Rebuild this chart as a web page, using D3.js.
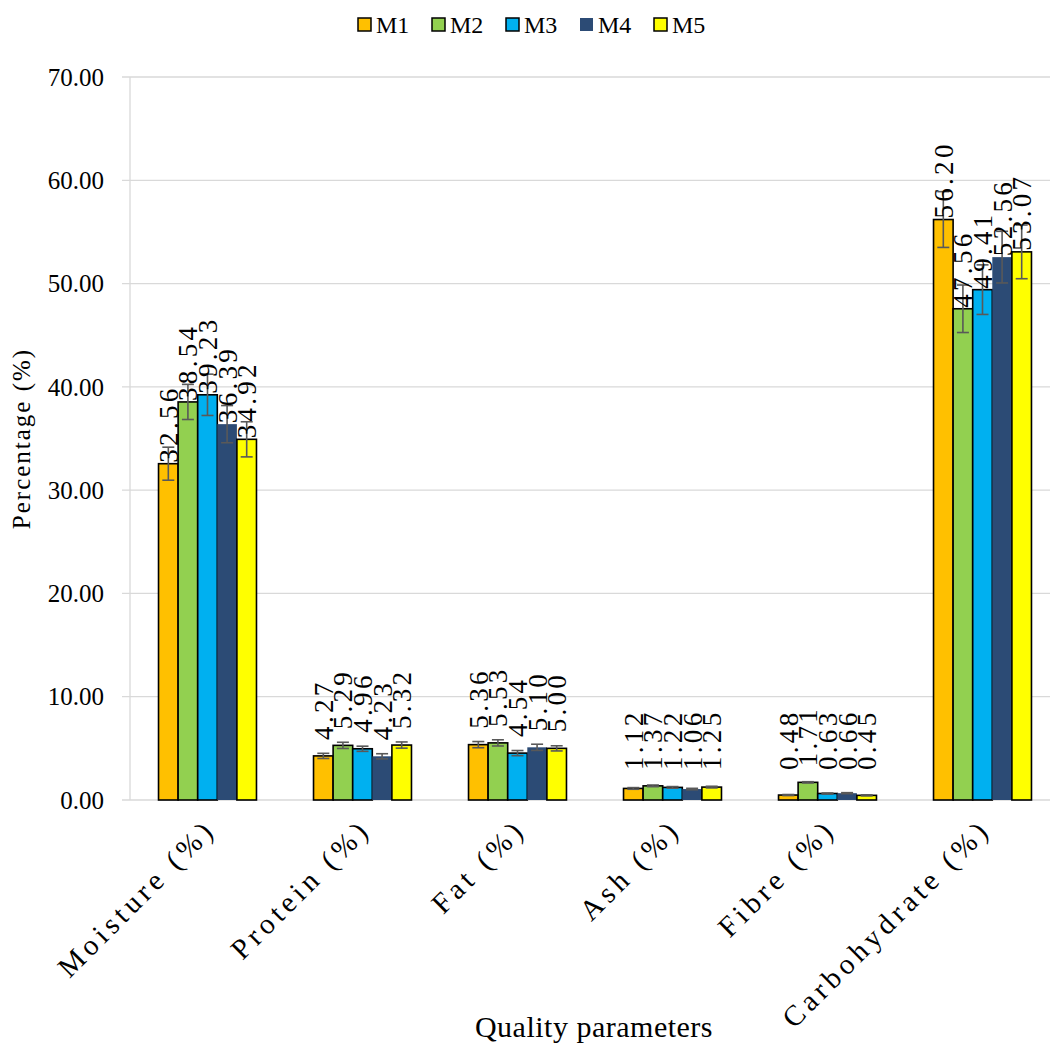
<!DOCTYPE html>
<html><head><meta charset="utf-8">
<script src="https://cdn.jsdelivr.net/npm/d3@7"></script>
<style>body{margin:0;background:#fff}svg{display:block}</style>
</head><body><div id="chart"></div>
<script>
const categories = ["Moisture (%)", "Protein (%)", "Fat (%)", "Ash (%)", "Fibre (%)", "Carbohydrate (%)"];
const seriesNames = ["M1", "M2", "M3", "M4", "M5"];
const M1 = [32.56, 4.27, 5.36, 1.12, 0.48, 56.20];
const M2 = [38.54, 5.29, 5.53, 1.37, 1.71, 47.56];
const M3 = [39.23, 4.96, 4.54, 1.22, 0.63, 49.41];
const M4 = [36.39, 4.23, 5.10, 1.06, 0.66, 52.56];
const M5 = [34.92, 5.32, 5.00, 1.25, 0.45, 53.07];
const E1 = [1.6, 0.25, 0.3, 0.08, 0.05, 2.7];
const E2 = [1.7, 0.3, 0.3, 0.08, 0.06, 2.3];
const E3 = [2.0, 0.25, 0.25, 0.08, 0.05, 2.4];
const E4 = [1.8, 0.25, 0.3, 0.07, 0.05, 2.5];
const E5 = [1.7, 0.3, 0.25, 0.08, 0.05, 2.6];
const yTicks = [0, 10, 20, 30, 40, 50, 60, 70];
const colors = ["#FFC000", "#92D050", "#00B0F0", "#2C4B75", "#FFFF00"];
const strokes = ["#000", "#000", "#000", "none", "#000"];

const values = [M1, M2, M3, M4, M5];
const errors = [E1, E2, E3, E4, E5];
const FONT = "'Liberation Serif', 'Times New Roman', Times, 'DejaVu Serif', serif";

const W = 1050, H = 1045;
const svg = d3.select("#chart").append("svg").attr("width", W).attr("height", H)
  .attr("font-family", FONT).style("font-family", FONT);

const x0 = d3.scaleBand().domain(categories).range([130, 1060]).paddingInner(0.368).paddingOuter(0.184);
const x1 = d3.scaleBand().domain(seriesNames).range([0, x0.bandwidth()]);
const y = d3.scaleLinear().domain([0, 70]).range([800, 77]);

// gridlines
svg.append("g").selectAll("line").data(yTicks).join("line")
  .attr("x1", 122).attr("x2", 1050)
  .attr("y1", d => y(d)).attr("y2", d => y(d))
  .attr("stroke", "#d9d9d9").attr("stroke-width", 1.3);
svg.append("line").attr("x1", 130).attr("x2", 130).attr("y1", y(70)).attr("y2", y(0))
  .attr("stroke", "#d9d9d9").attr("stroke-width", 1.3);

// y tick labels
svg.append("g").selectAll("text").data(yTicks).join("text")
  .attr("x", 104).attr("y", d => y(d)).attr("dy", "0.35em")
  .attr("text-anchor", "end").style("font-size", "25px").style("font-family", FONT)
  .text(d => d.toFixed(2));

// bars
const flat = [];
categories.forEach((c, i) => seriesNames.forEach((s, j) => flat.push({c, s, j, v: values[j][i], e: errors[j][i]})));

svg.append("g").selectAll("rect").data(flat).join("rect")
  .attr("x", d => x0(d.c) + x1(d.s)).attr("width", x1.bandwidth())
  .attr("y", d => y(d.v)).attr("height", d => y(0) - y(d.v))
  .attr("fill", d => colors[d.j]).attr("stroke", d => strokes[d.j]).attr("stroke-width", 1.6);

// error bars
const eg = svg.append("g").attr("stroke", "#595959").attr("stroke-width", 1.6);
flat.forEach(d => {
  const cx = x0(d.c) + x1(d.s) + x1.bandwidth() / 2;
  const yt = y(d.v + d.e), yb = y(d.v - d.e);
  eg.append("line").attr("x1", cx).attr("x2", cx).attr("y1", yt).attr("y2", yb);
  eg.append("line").attr("x1", cx - 6).attr("x2", cx + 6).attr("y1", yt).attr("y2", yt);
  eg.append("line").attr("x1", cx - 6).attr("x2", cx + 6).attr("y1", yb).attr("y2", yb);
});

// value labels
svg.append("g").selectAll("text").data(flat).join("text")
  .attr("transform", d => {
    const cx = x0(d.c) + x1(d.s) + x1.bandwidth() / 2;
    const ly = d.v < 10 ? Math.min(y(d.v) - 16, y(0) - 30) : y(d.v) - 1;
    return `translate(${cx},${ly}) rotate(-90)`;
  })
  .attr("dy", "0.35em").attr("text-anchor", "start").style("font-size", "27px")
  .style("letter-spacing", "3.3px").style("font-family", FONT)
  .text(d => d.v.toFixed(2));

// x category labels
svg.append("g").selectAll("text").data(categories).join("text")
  .attr("transform", c => `translate(${x0(c) + x0.bandwidth() / 2 + 10},${831}) rotate(-45)`)
  .attr("text-anchor", "end").style("font-size", "29px").style("letter-spacing", "4.5px").style("font-family", FONT)
  .text(c => c);

// axis titles
svg.append("text").attr("transform", `translate(30,${(y(0) + y(70)) / 2}) rotate(-90)`)
  .attr("text-anchor", "middle").style("font-size", "25px").style("letter-spacing", "2px")
  .style("font-family", FONT).text("Percentage (%)");
svg.append("text").attr("x", 594).attr("y", 1037).attr("text-anchor", "middle")
  .style("font-size", "30px").style("letter-spacing", "0.5px").style("font-family", FONT).text("Quality parameters");

// legend
const lg = svg.append("g");
seriesNames.forEach((s, j) => {
  const lx = 358 + j * 74;
  lg.append("rect").attr("x", lx).attr("y", 18).attr("width", 13).attr("height", 13)
    .attr("fill", colors[j]).attr("stroke", strokes[j]).attr("stroke-width", 1.5);
  lg.append("text").attr("x", lx + 18).attr("y", 25).attr("dy", "0.35em")
    .style("font-size", "24px").style("font-family", FONT).text(s);
});
</script></body></html>
